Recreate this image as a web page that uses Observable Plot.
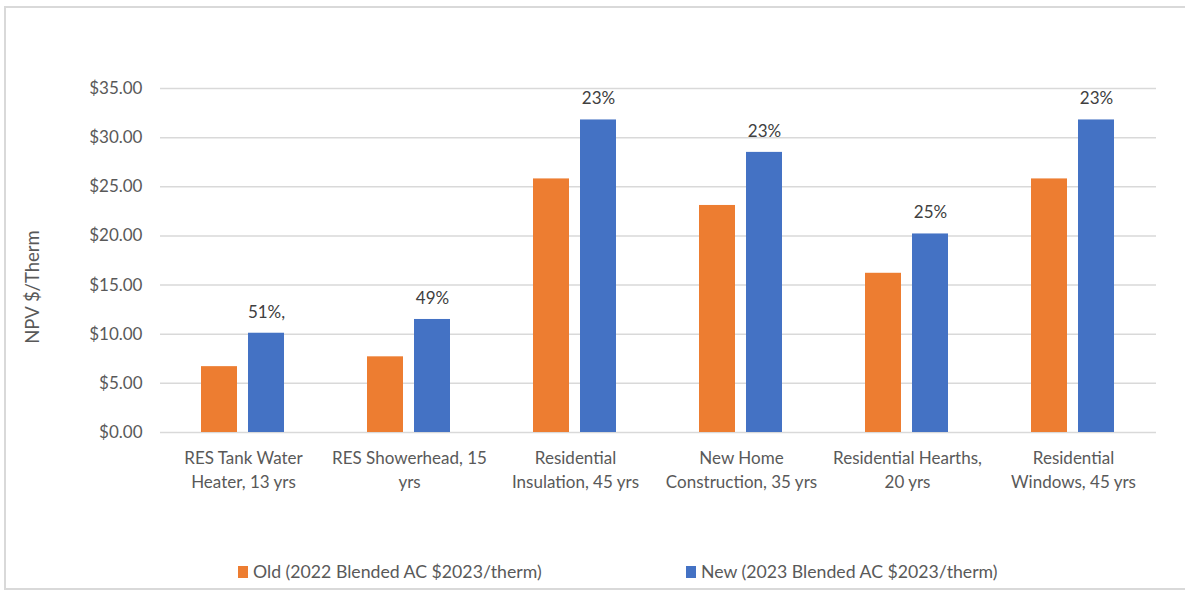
<!DOCTYPE html>
<html>
<head>
<meta charset="utf-8">
<script src="https://cdn.jsdelivr.net/npm/d3@7"></script>
<script src="https://cdn.jsdelivr.net/npm/@observablehq/plot@0.6"></script>
<style>
  html, body { margin: 0; padding: 0; background: #fff; }
  body { width: 1185px; height: 595px; position: relative; overflow: hidden; font-family: Lato, "Open Sans", sans-serif; }
  #frame { position: absolute; left: 4px; top: 6px; width: 1200px; height: 584px; border: 2px solid #d9d9d9; box-sizing: border-box; }
  #chart { position: absolute; left: 0; top: 0; }
  #ylabel { position: absolute; left: 32px; top: 287px; transform: translate(-50%, -50%) rotate(-90deg); font-size: 18.5px; color: #595959; white-space: nowrap; }
  #legend { position: absolute; top: 561px; left: 0; width: 1185px; height: 20px; font-size: 17.7px; color: #595959; }
  .item { position: absolute; top: 0; display: flex; align-items: center; white-space: nowrap; }
  .sw { width: 10px; height: 12px; margin-right: 5px; }
</style>
</head>
<body>
<div id="frame"></div>
<div id="chart"></div>
<div id="ylabel">NPV $/Therm</div>
<div id="legend"></div>
<script>
const categories = [
  "RES Tank Water\nHeater, 13 yrs",
  "RES Showerhead, 15\nyrs",
  "Residential\nInsulation, 45 yrs",
  "New Home\nConstruction, 35 yrs",
  "Residential Hearths,\n20 yrs",
  "Residential\nWindows, 45 yrs"
];
const seriesNames = ["Old (2022 Blended AC $2023/therm)", "New (2023 Blended AC $2023/therm)"];
const oldValues = [6.7, 7.7, 25.8, 23.1, 16.2, 25.8];
const newValues = [10.1, 11.5, 31.8, 28.5, 20.2, 31.8];
const pctLabels = ["51%,", "49%", "23%", "23%", "25%", "23%"];
const yTicks = [0, 5, 10, 15, 20, 25, 30, 35];
const colors = ["#ED7D31", "#4472C4"];

const data = [];
categories.forEach((c, i) => {
  data.push({cat: c, series: seriesNames[0], value: oldValues[i]});
  data.push({cat: c, series: seriesNames[1], value: newValues[i], pct: pctLabels[i]});
});
const newData = data.filter(d => d.series === seriesNames[1]);

const chart = Plot.plot({
  width: 1185,
  height: 500,
  marginLeft: 160,
  marginRight: 29,
  marginTop: 88,
  marginBottom: 68,
  style: { fontFamily: "Lato, 'Open Sans', sans-serif", fontSize: "17px", background: "transparent", overflow: "visible" },
  fx: { domain: categories, padding: 0, label: null },
  x: { domain: seriesNames, paddingInner: 0.229, paddingOuter: 0.844, axis: null },
  y: { domain: [0, 35], label: null },
  color: { domain: seriesNames, range: colors },
  marks: [
    Plot.ruleY(yTicks, { stroke: "#d9d9d9", strokeWidth: 1.5 }),
    Plot.barY(data, { fx: "cat", x: "series", y: "value", fill: "series" }),
    Plot.text(newData, { fx: "cat", x: "series", y: "value", text: "pct", dy: -21, fill: "#404040", fontSize: 17 }),
    Plot.axisY({ ticks: yTicks, tickSize: 0, tickPadding: 18, tickFormat: d => "$" + d.toFixed(2), fill: "#595959", fontSize: 17, label: null }),
    Plot.axisFx({ anchor: "bottom", tickSize: 0, tickPadding: 15, fill: "#595959", fontSize: 17, lineHeight: 1.4, label: null })
  ]
});
document.getElementById("chart").appendChild(chart);

const legend = document.getElementById("legend");
const legendX = [238, 686];
seriesNames.forEach((s, i) => {
  const it = document.createElement("div");
  it.className = "item";
  it.style.left = legendX[i] + "px";
  const sw = document.createElement("span");
  sw.className = "sw";
  sw.style.background = colors[i];
  const t = document.createElement("span");
  t.textContent = s;
  it.appendChild(sw); it.appendChild(t);
  legend.appendChild(it);
});
</script>
</body>
</html>
